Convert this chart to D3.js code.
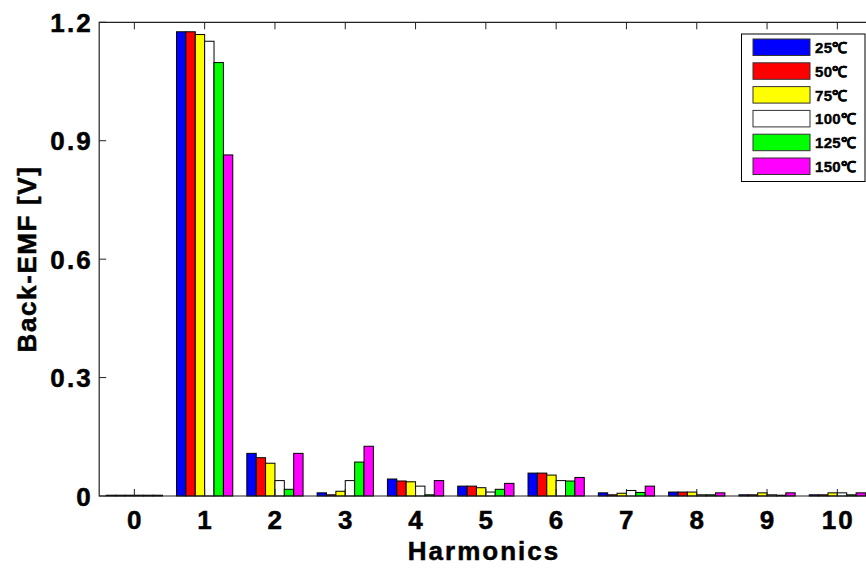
<!DOCTYPE html>
<html>
<head>
<meta charset="utf-8">
<script src="https://cdn.jsdelivr.net/npm/d3@7"></script>
<style>
  body { margin: 0; background: #fff; }
  text { font-family: "Liberation Sans", Arial, sans-serif; font-weight: bold; fill: #000; stroke: #000; stroke-width: 0.5px; }
</style>
</head>
<body>
<div id="main"></div>
<script>
// harmonic orders on the x axis
const harmonics = [0, 1, 2, 3, 4, 5, 6, 7, 8, 9, 10];

// one series per temperature
const seriesNames = ['25\u2103', '50\u2103', '75\u2103', '100\u2103', '125\u2103', '150\u2103'];
const seriesColors = ['#0000ff', '#ff0000', '#ffff00', '#ffffff', '#00ff00', '#ff00ff'];

const emf25  = [0.002, 1.176, 0.108, 0.008, 0.043, 0.025, 0.058, 0.008, 0.010, 0.003, 0.003];
const emf50  = [0.002, 1.176, 0.097, 0.003, 0.038, 0.025, 0.058, 0.003, 0.010, 0.003, 0.003];
const emf75  = [0.002, 1.169, 0.083, 0.012, 0.036, 0.021, 0.053, 0.007, 0.010, 0.008, 0.008];
const emf100 = [0.002, 1.152, 0.039, 0.039, 0.025, 0.010, 0.039, 0.014, 0.003, 0.003, 0.008];
const emf125 = [0.002, 1.098, 0.017, 0.086, 0.003, 0.017, 0.038, 0.009, 0.003, 0.002, 0.003];
const emf150 = [0.002, 0.864, 0.108, 0.126, 0.039, 0.032, 0.047, 0.025, 0.008, 0.008, 0.008];

const seriesValues = [emf25, emf50, emf75, emf100, emf125, emf150];

const yTicks = [0, 0.3, 0.6, 0.9, 1.2];
const yTickLabels = ['0', '0.3', '0.6', '0.9', '1.2'];

const width = 866, height = 570;
const plotLeft = 99.2, plotRight = 872.5, plotTop = 22.3, plotBottom = 496;

let svg = d3.select('#main')
    .append('svg')
        .attr('width', width)
        .attr('height', height);

// x is a linear scale like matlab's bar(), xlim [-0.5, 10.5]
const x = d3.scaleLinear().domain([-0.5, 10.5]).range([plotLeft, plotRight]);
const y = d3.scaleLinear().domain([0, 1.2]).range([plotBottom, plotTop]);

const step = x(1) - x(0);
const barW = step * 0.8 / seriesNames.length;

// flatten to one record per bar
let bars = [];
seriesValues.forEach((vals, s) => {
    vals.forEach((v, i) => bars.push({ s: s, h: harmonics[i], v: v }));
});

svg.selectAll('.bar')
    .data(bars)
    .enter()
    .append('rect')
        .attr('class', 'bar')
        .attr('x', d => x(d.h) + (d.s - seriesNames.length / 2) * barW)
        .attr('y', d => y(d.v))
        .attr('width', barW)
        .attr('height', d => y(0) - y(d.v))
        .style('fill', d => seriesColors[d.s])
        .style('stroke', '#000')
        .style('stroke-width', 1);

// axes box (right side falls outside the picture)
svg.append('path')
    .attr('d', `M${plotRight},${plotTop}H${plotLeft}V${plotBottom}H${plotRight}`)
    .attr('fill', 'none')
    .attr('stroke', '#222')
    .attr('stroke-width', 1.2);

// inward ticks, bottom and top
const tickLen = 7;
svg.selectAll('.xtick-b')
    .data(harmonics)
    .enter()
    .append('line')
        .attr('x1', d => x(d)).attr('x2', d => x(d))
        .attr('y1', plotBottom).attr('y2', plotBottom - tickLen)
        .attr('stroke', '#222');
svg.selectAll('.xtick-t')
    .data(harmonics)
    .enter()
    .append('line')
        .attr('x1', d => x(d)).attr('x2', d => x(d))
        .attr('y1', plotTop).attr('y2', plotTop + tickLen)
        .attr('stroke', '#222');
svg.selectAll('.ytick')
    .data(yTicks)
    .enter()
    .append('line')
        .attr('x1', plotLeft).attr('x2', plotLeft + tickLen)
        .attr('y1', d => y(d)).attr('y2', d => y(d))
        .attr('stroke', '#222');

// tick labels
svg.selectAll('.xlabel')
    .data(harmonics)
    .enter()
    .append('text')
        .attr('x', d => x(d) + 1)
        .attr('y', 529)
        .attr('text-anchor', 'middle')
        .style('font-size', '26px')
        .style('letter-spacing', '2.2px')
        .text(d => d);

svg.selectAll('.ylabel')
    .data(yTicks)
    .enter()
    .append('text')
        .attr('x', 93)
        .attr('y', d => y(d) + 9.5)
        .attr('text-anchor', 'end')
        .style('font-size', '26px')
        .style('letter-spacing', '2.2px')
        .text((d, i) => yTickLabels[i]);

// axis titles
svg.append('text')
    .attr('x', 484)
    .attr('y', 560)
    .attr('text-anchor', 'middle')
    .style('font-size', '26px')
    .style('letter-spacing', '2px')
    .text('Harmonics');

svg.append('text')
    .attr('transform', 'translate(36,259) rotate(-90)')
    .attr('text-anchor', 'middle')
    .style('font-size', '26px')
    .style('letter-spacing', '1.6px')
    .text('Back-EMF [V]');

// legend
const legend = svg.append('g');
legend.append('rect')
    .attr('x', 741.5).attr('y', 34)
    .attr('width', 123.5).attr('height', 147.5)
    .attr('fill', '#fff')
    .attr('stroke', '#000');

const rows = legend.selectAll('.row')
    .data(seriesNames)
    .enter()
    .append('g')
        .attr('transform', (d, i) => `translate(0,${39 + i * 23.8})`);
rows.append('rect')
    .attr('x', 753).attr('y', 0)
    .attr('width', 57).attr('height', 16.5)
    .style('fill', (d, i) => seriesColors[i])
    .style('stroke', '#333');
rows.append('text')
    .attr('x', 815)
    .attr('y', 14)
    .style('font-size', '15px')
    .style('letter-spacing', '0.3px')
    .style('stroke-width', '0.4px')
    .text(d => d);
</script>
</body>
</html>
